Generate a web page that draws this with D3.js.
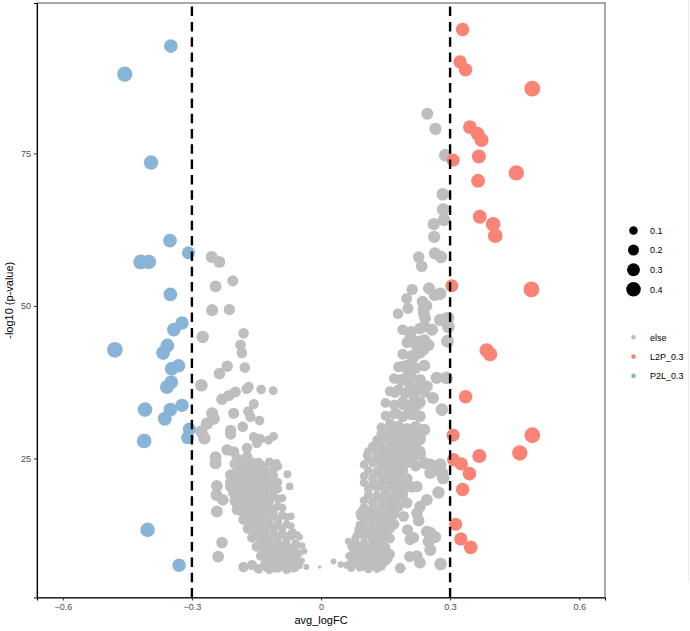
<!DOCTYPE html>
<html>
<head>
<meta charset="utf-8">
<script src="https://cdn.jsdelivr.net/npm/d3@7"></script>
<style>
  body { margin: 0; background: #fff; }
  svg { display: block; font-family: "Liberation Sans", Arial, sans-serif; }
</style>
</head>
<body>
<svg class="volcano" width="690" height="631"></svg>
<script>
// Points: [avg_logFC, -log10(p)]
var greyPoints = [
  // left, sparse
  [-0.254,58.0],[-0.236,57.2],[-0.205,54.1],[-0.245,53.2],[-0.253,49.3],[-0.213,49.4],
  [-0.275,44.9],[-0.180,45.5],[-0.187,43.6],[-0.184,42.3],[-0.218,40.1],[-0.236,38.9],
  [-0.177,39.9],[-0.278,37.0],[-0.168,36.7],[-0.139,36.3],[-0.111,36.1],[-0.230,34.7],
  [-0.214,35.3],[-0.199,35.9],[-0.173,36.4],[-0.156,33.9],[-0.253,32.4],[-0.203,32.4],
  [-0.169,32.7],[-0.249,31.5],[-0.164,31.8],[-0.143,31.2],[-0.265,30.7],[-0.278,29.4],
  [-0.271,28.3],[-0.210,29.6],[-0.182,30.2],[-0.210,29.0],[-0.156,28.5],[-0.149,27.5],
  [-0.122,28.0],[-0.110,28.6],[-0.141,28.2],[-0.172,26.7],[-0.218,26.4],[-0.203,26.1],
  [-0.172,25.3],[-0.245,25.2],[-0.245,24.2],[-0.194,24.9],[-0.145,24.3],[-0.104,24.2],
  [-0.172,23.4],[-0.133,23.4],[-0.210,22.3],[-0.191,22.6],[-0.168,21.8],[-0.149,21.5],
  [-0.125,22.0],[-0.078,22.4],[-0.242,20.5],[-0.210,20.4],[-0.110,21.0],[-0.073,20.4],
  [-0.243,19.0],[-0.228,18.2],[-0.203,19.3],[-0.156,19.3],[-0.242,16.3],[-0.195,16.6],
  [-0.230,11.2],[-0.239,8.9],[-0.180,7.2],[-0.160,7.5],[-0.145,6.9],[-0.003,7.2],
  [-0.034,7.2],[-0.050,12.1],[-0.044,10.7],[-0.039,9.8],[-0.065,12.9],
  // left, dense
  [-0.20,24.1],[-0.18,23.8],[-0.16,24.3],[-0.14,23.9],[-0.12,24.4],[-0.10,23.7],
  [-0.19,23.2],[-0.17,23.0],[-0.15,23.3],[-0.13,23.1],[-0.11,23.2],
  [-0.20,22.4],[-0.17,22.7],[-0.15,22.3],[-0.13,22.8],[-0.11,22.2],
  [-0.20,21.8],[-0.18,21.6],[-0.16,21.9],[-0.14,21.7],[-0.12,21.8],
  [-0.21,21.0],[-0.19,21.3],[-0.17,20.8],[-0.15,21.2],[-0.13,20.7],[-0.10,21.1],
  [-0.20,20.3],[-0.18,20.1],[-0.16,20.4],[-0.14,20.2],[-0.12,20.3],[-0.10,20.0],
  [-0.19,19.6],[-0.17,19.3],[-0.15,19.8],[-0.13,19.4],[-0.11,19.7],
  [-0.19,18.8],[-0.17,18.6],[-0.15,18.9],[-0.13,18.7],[-0.11,18.8],[-0.09,18.5],
  [-0.20,18.0],[-0.18,18.3],[-0.16,17.8],[-0.14,18.2],[-0.12,17.9],[-0.10,18.4],
  [-0.18,17.2],[-0.16,17.0],[-0.14,17.3],[-0.12,17.1],[-0.10,17.2],
  [-0.19,16.5],[-0.17,16.8],[-0.15,16.3],[-0.13,16.7],[-0.11,16.4],[-0.09,16.9],
  [-0.17,15.7],[-0.15,15.5],[-0.13,15.8],[-0.11,15.6],[-0.09,15.7],[-0.07,15.5],
  [-0.18,15.0],[-0.16,15.3],[-0.14,14.8],[-0.12,15.2],[-0.10,14.9],[-0.08,15.4],
  [-0.16,14.2],[-0.14,14.0],[-0.12,14.3],[-0.10,14.1],[-0.08,14.2],
  [-0.17,13.5],[-0.15,13.8],[-0.13,13.3],[-0.11,13.7],[-0.09,13.4],[-0.07,13.9],
  [-0.15,12.7],[-0.13,12.5],[-0.11,12.8],[-0.09,12.6],[-0.07,12.7],[-0.055,12.5],
  [-0.145,12.3],[-0.125,12.2],[-0.105,12.4],[-0.085,12.3],[-0.07,12.2],
  [-0.16,12.0],[-0.14,12.3],[-0.12,11.8],[-0.10,12.2],[-0.08,11.9],[-0.065,12.4],
  [-0.14,11.2],[-0.12,11.0],[-0.10,11.3],[-0.08,11.1],[-0.06,11.2],
  [-0.15,10.5],[-0.13,10.8],[-0.11,10.3],[-0.09,10.7],[-0.07,10.4],[-0.055,10.9],
  [-0.135,10.0],[-0.115,10.1],[-0.095,9.9],[-0.075,10.0],[-0.06,10.1],
  [-0.13,9.7],[-0.11,9.5],[-0.09,9.8],[-0.07,9.6],[-0.055,9.7],
  [-0.14,9.0],[-0.12,9.3],[-0.10,8.8],[-0.08,9.2],[-0.065,8.9],[-0.05,9.4],
  [-0.125,8.8],[-0.105,8.7],[-0.09,8.9],[-0.07,8.8],[-0.058,8.7],
  [-0.12,8.4],[-0.10,8.5],[-0.085,8.3],[-0.07,8.5],[-0.055,8.4],
  [-0.13,7.8],[-0.11,8.1],[-0.09,7.6],[-0.075,8.0],[-0.06,7.7],[-0.045,8.2],
  [-0.115,7.3],[-0.095,7.4],[-0.07,7.2],[-0.05,7.4],
  [-0.125,7.1],[-0.105,7.0],[-0.085,7.1],[-0.06,7.0],
  [-0.12,6.8],[-0.10,7.0],[-0.08,6.7],[-0.065,6.9],
  // right, sparse
  [0.247,81.5],[0.266,79.0],[0.289,74.7],[0.283,68.3],[0.284,65.8],[0.286,64.1],
  [0.262,63.4],[0.263,61.3],[0.227,58.0],[0.265,58.6],[0.279,58.0],[0.234,56.5],
  [0.212,52.7],[0.251,52.9],[0.264,51.8],[0.277,52.0],[0.199,51.2],[0.236,50.7],
  [0.245,50.0],[0.202,49.6],[0.179,48.7],[0.239,48.7],[0.295,48.0],[0.277,47.7],
  [0.238,49.4],[0.242,48.0],[0.240,46.6],[0.258,46.1],[0.296,46.6],[0.294,44.2],
  [0.207,45.0],[0.227,44.2],[0.250,43.6],[0.238,42.8],[0.223,42.3],[0.215,41.5],
  [0.207,40.4],[0.188,40.1],[0.203,39.3],[0.184,37.9],[0.196,38.2],[0.269,38.2],
  [0.292,38.2],[0.207,36.8],[0.223,36.5],[0.246,36.8],[0.172,35.8],[0.196,35.7],
  [0.215,35.4],[0.260,34.9],[0.192,33.8],[0.223,33.8],[0.281,33.0],[0.176,32.4],
  [0.203,32.4],[0.219,32.2],[0.161,30.7],[0.184,29.2],[0.165,28.6],[0.175,27.5],
  [0.230,28.1],[0.107,25.5],[0.142,25.3],[0.230,25.6],[0.242,24.2],[0.277,24.0],
  [0.254,24.0],[0.269,23.1],[0.281,22.6],[0.254,22.6],[0.284,21.8],[0.223,20.4],
  [0.273,19.4],[0.246,18.2],[0.230,17.1],[0.223,16.0],[0.227,14.8],[0.192,15.5],
  [0.201,13.3],[0.246,13.0],[0.254,12.8],[0.265,12.1],[0.250,11.4],[0.254,10.0],
  [0.215,12.0],[0.207,11.7],[0.223,9.0],[0.206,8.9],[0.184,7.0],[0.278,7.7],
  [0.230,7.9],[0.091,15.5],[0.087,13.3],[0.064,11.4],[0.029,8.1],[0.046,7.6],
  // right, dense
  [0.19,46.1],[0.21,45.8],[0.23,46.3],
  [0.20,44.0],[0.22,43.7],[0.24,44.4],
  [0.19,42.1],[0.21,41.8],[0.23,42.3],
  [0.18,40.0],[0.20,40.3],[0.22,39.8],[0.24,40.2],
  [0.17,38.1],[0.19,37.8],[0.21,38.3],[0.23,37.9],
  [0.16,36.0],[0.18,36.3],[0.20,35.8],[0.22,36.2],[0.24,35.9],
  [0.15,34.1],[0.17,33.8],[0.19,34.3],[0.21,33.9],[0.23,34.2],
  [0.15,32.0],[0.17,32.3],[0.19,31.8],[0.21,32.2],[0.23,31.9],
  [0.14,30.1],[0.16,29.8],[0.18,30.3],[0.20,29.9],[0.22,30.2],[0.24,29.7],
  [0.14,29.0],[0.16,28.9],[0.18,29.1],[0.20,28.9],[0.22,29.0],
  [0.13,28.0],[0.15,28.3],[0.17,27.8],[0.19,28.2],[0.21,27.9],[0.23,28.4],
  [0.12,27.0],[0.14,26.9],[0.16,27.1],[0.18,26.9],[0.20,27.1],[0.22,26.9],
  [0.11,26.1],[0.13,25.8],[0.15,26.3],[0.17,25.9],[0.19,26.2],[0.21,25.7],[0.23,26.1],
  [0.11,25.0],[0.13,24.9],[0.15,25.1],[0.17,24.9],[0.19,25.1],[0.21,24.9],
  [0.10,24.0],[0.12,24.3],[0.14,23.8],[0.16,24.2],[0.18,23.9],[0.20,24.3],[0.22,23.8],
  [0.11,23.0],[0.13,22.9],[0.15,23.1],[0.17,22.9],[0.19,23.1],
  [0.10,22.1],[0.12,21.8],[0.14,22.3],[0.16,21.9],[0.18,22.2],[0.20,21.7],
  [0.10,21.0],[0.12,20.9],[0.14,21.1],[0.16,20.9],[0.18,21.1],[0.20,20.9],
  [0.11,20.0],[0.13,20.3],[0.15,19.8],[0.17,20.2],[0.19,19.9],[0.21,20.3],
  [0.11,19.0],[0.13,18.9],[0.15,19.1],[0.17,18.9],[0.19,19.1],
  [0.10,18.1],[0.12,17.8],[0.14,18.3],[0.16,17.9],[0.18,18.2],[0.20,17.7],
  [0.10,17.0],[0.12,16.9],[0.14,17.1],[0.16,16.9],[0.18,17.1],
  [0.095,16.5],[0.115,16.4],[0.135,16.6],[0.155,16.5],
  [0.09,16.0],[0.11,16.3],[0.13,15.8],[0.15,16.2],[0.17,15.9],
  [0.105,15.5],[0.125,15.6],[0.145,15.4],[0.165,15.5],
  [0.10,15.0],[0.12,14.9],[0.14,15.1],[0.16,14.9],
  [0.09,14.1],[0.11,13.8],[0.13,14.3],[0.15,13.9],[0.17,14.2],
  [0.10,13.5],[0.12,13.6],[0.14,13.4],[0.16,13.5],
  [0.09,13.0],[0.11,12.9],[0.13,13.1],[0.15,12.9],
  [0.085,12.5],[0.105,12.4],[0.125,12.6],[0.145,12.5],
  [0.08,12.0],[0.10,12.3],[0.12,11.8],[0.14,12.2],[0.16,11.9],
  [0.08,11.3],[0.10,11.2],[0.12,11.4],[0.14,11.2],
  [0.07,10.5],[0.09,10.8],[0.11,10.3],[0.13,10.7],[0.15,10.4],
  [0.08,10.0],[0.10,10.1],[0.12,9.9],[0.14,10.0],
  [0.075,9.8],[0.09,9.7],[0.11,9.9],[0.13,9.7],[0.15,9.8],
  [0.065,9.0],[0.08,9.3],[0.10,8.8],[0.12,9.2],[0.14,8.9],[0.16,9.3],
  [0.075,8.7],[0.095,8.6],[0.115,8.8],[0.135,8.7],[0.155,8.6],
  [0.07,8.2],[0.09,8.1],[0.11,8.3],[0.13,8.1],[0.15,8.2],
  [0.06,7.5],[0.08,7.8],[0.10,7.3],[0.12,7.7],[0.14,7.4],
  [0.07,7.0],[0.09,7.1],[0.11,6.9],[0.13,7.0]
];

var l2pPoints = [
  [0.329,95.3],[0.323,90.0],[0.336,88.7],[0.491,85.6],[0.346,79.3],[0.364,78.2],
  [0.373,77.2],[0.307,73.9],[0.367,74.5],[0.454,71.8],[0.365,70.5],[0.369,64.6],
  [0.400,63.4],[0.405,61.5],[0.304,53.3],[0.489,52.7],[0.385,42.7],[0.393,42.1],
  [0.336,35.1],[0.307,28.8],[0.491,28.8],[0.368,25.4],[0.462,25.9],[0.308,24.8],
  [0.326,24.1],[0.345,22.5],[0.329,19.9],[0.313,14.2],[0.325,11.8],[0.348,10.4]
];

var p2lPoints = [
  [-0.349,92.6],[-0.456,88.0],[-0.395,73.5],[-0.351,60.7],[-0.308,58.7],[-0.419,57.2],
  [-0.400,57.2],[-0.350,51.9],[-0.323,47.2],[-0.342,46.1],[-0.479,42.8],[-0.357,43.5],
  [-0.367,42.3],[-0.331,40.2],[-0.347,39.7],[-0.348,37.5],[-0.358,36.7],[-0.409,33.0],
  [-0.350,33.0],[-0.323,33.7],[-0.363,31.5],[-0.306,29.8],[-0.310,28.4],[-0.411,27.85],
  [-0.403,13.3],[-0.330,7.5]
];

var groups = ["else", "L2P_0.3", "P2L_0.3"];
var groupColors = ["#BEBEBE", "#F98475", "#88B5D7"];
var sizeBreaks = [0.1, 0.2, 0.3, 0.4];
var xTicks = [-0.6, -0.3, 0, 0.3, 0.6];
var yTicks = [25, 50, 75];
var cutoffs = [-0.3, 0.3];

var svg = d3.select(".volcano");
var panel = {left: 37, right: 605, top: 3, bottom: 597.5};

var x = d3.scaleLinear().domain([-0.66, 0.66]).range([panel.left, panel.right]);
var y = d3.scaleLinear().domain([2.2, 99.65]).range([panel.bottom, panel.top]);
var r = d3.scaleSqrt().domain([0, 0.49]).range([1.3, 7.9]);
var color = d3.scaleOrdinal().domain(groups).range(groupColors);

// faint line at right edge of the image
svg.append("line")
    .attr("x1", 688.5).attr("x2", 688.5).attr("y1", 0).attr("y2", 582)
    .attr("stroke", "#ececec").attr("stroke-width", 1);

// Panel border
svg.append("rect")
    .attr("x", panel.left).attr("y", panel.top)
    .attr("width", panel.right - panel.left).attr("height", panel.bottom - panel.top)
    .attr("fill", "none").attr("stroke", "#555").attr("stroke-width", 1);

// Points
var all = [];
greyPoints.forEach(function(d) { all.push({fc: d[0], p: d[1], g: "else"}); });
l2pPoints.forEach(function(d) { all.push({fc: d[0], p: d[1], g: "L2P_0.3"}); });
p2lPoints.forEach(function(d) { all.push({fc: d[0], p: d[1], g: "P2L_0.3"}); });

svg.append("g")
    .selectAll("circle")
    .data(all)
    .enter()
        .append("circle")
        .attr("cx", function(d) { return x(d.fc); })
        .attr("cy", function(d) { return y(d.p); })
        .attr("r", function(d) { return r(Math.abs(d.fc)); })
        .attr("fill", function(d) { return color(d.g); });

// Cutoff lines
svg.append("g")
    .selectAll("line")
    .data(cutoffs)
    .enter()
        .append("line")
        .attr("x1", function(d) { return x(d); })
        .attr("x2", function(d) { return x(d); })
        .attr("y1", panel.bottom)
        .attr("y2", panel.top)
        .attr("stroke", "#000")
        .attr("stroke-width", 2.4)
        .attr("stroke-dasharray", "9.5,5.8");

// Axes
var xAxis = svg.append("g")
    .attr("transform", "translate(0," + panel.bottom + ")")
    .call(d3.axisBottom(x).tickValues(xTicks).tickSize(3).tickPadding(3)
        .tickFormat(function(d) { return d === 0 ? "0" : d3.format(".1f")(d).replace("-", "\u2212"); }));
var yAxis = svg.append("g")
    .attr("transform", "translate(" + panel.left + ",0)")
    .call(d3.axisLeft(y).tickValues(yTicks).tickSize(3).tickPadding(3));

[xAxis, yAxis].forEach(function(a) {
    a.select(".domain").attr("stroke", "#000").attr("stroke-width", 1.1);
    a.selectAll(".tick line").attr("stroke", "#333");
    a.selectAll(".tick text").attr("fill", "#4D4D4D").style("font-size", "9px")
        .style("font-family", "Liberation Sans, Arial, sans-serif");
});

// Axis titles
svg.append("text")
    .attr("x", (panel.left + panel.right) / 2)
    .attr("y", 624)
    .style("text-anchor", "middle")
    .style("font-size", "11px")
    .text("avg_logFC");

svg.append("text")
    .attr("transform", "translate(13," + (panel.top + panel.bottom) / 2 + ") rotate(-90)")
    .style("text-anchor", "middle")
    .style("font-size", "11px")
    .text("-log10 (p-value)");

// Size legend
var sizeLegend = svg.append("g");
sizeLegend.selectAll("circle")
    .data(sizeBreaks)
    .enter()
        .append("circle")
        .attr("cx", 633.5)
        .attr("cy", function(d, i) { return 230.5 + i * 19.6; })
        .attr("r", function(d) { return r(d); })
        .attr("fill", "#000");
sizeLegend.selectAll("text")
    .data(sizeBreaks)
    .enter()
        .append("text")
        .attr("x", 650)
        .attr("y", function(d, i) { return 230.5 + i * 19.6 + 3.2; })
        .style("font-size", "9px")
        .text(function(d) { return d; });

// Colour legend
var colorLegend = svg.append("g");
colorLegend.selectAll("circle")
    .data(groups)
    .enter()
        .append("circle")
        .attr("cx", 633.5)
        .attr("cy", function(d, i) { return 337.3 + i * 19.3; })
        .attr("r", 2.3)
        .attr("fill", function(d) { return color(d); });
colorLegend.selectAll("text")
    .data(groups)
    .enter()
        .append("text")
        .attr("x", 650)
        .attr("y", function(d, i) { return 337.3 + i * 19.3 + 3.2; })
        .style("font-size", "9px")
        .text(function(d) { return d; });
</script>
</body>
</html>
